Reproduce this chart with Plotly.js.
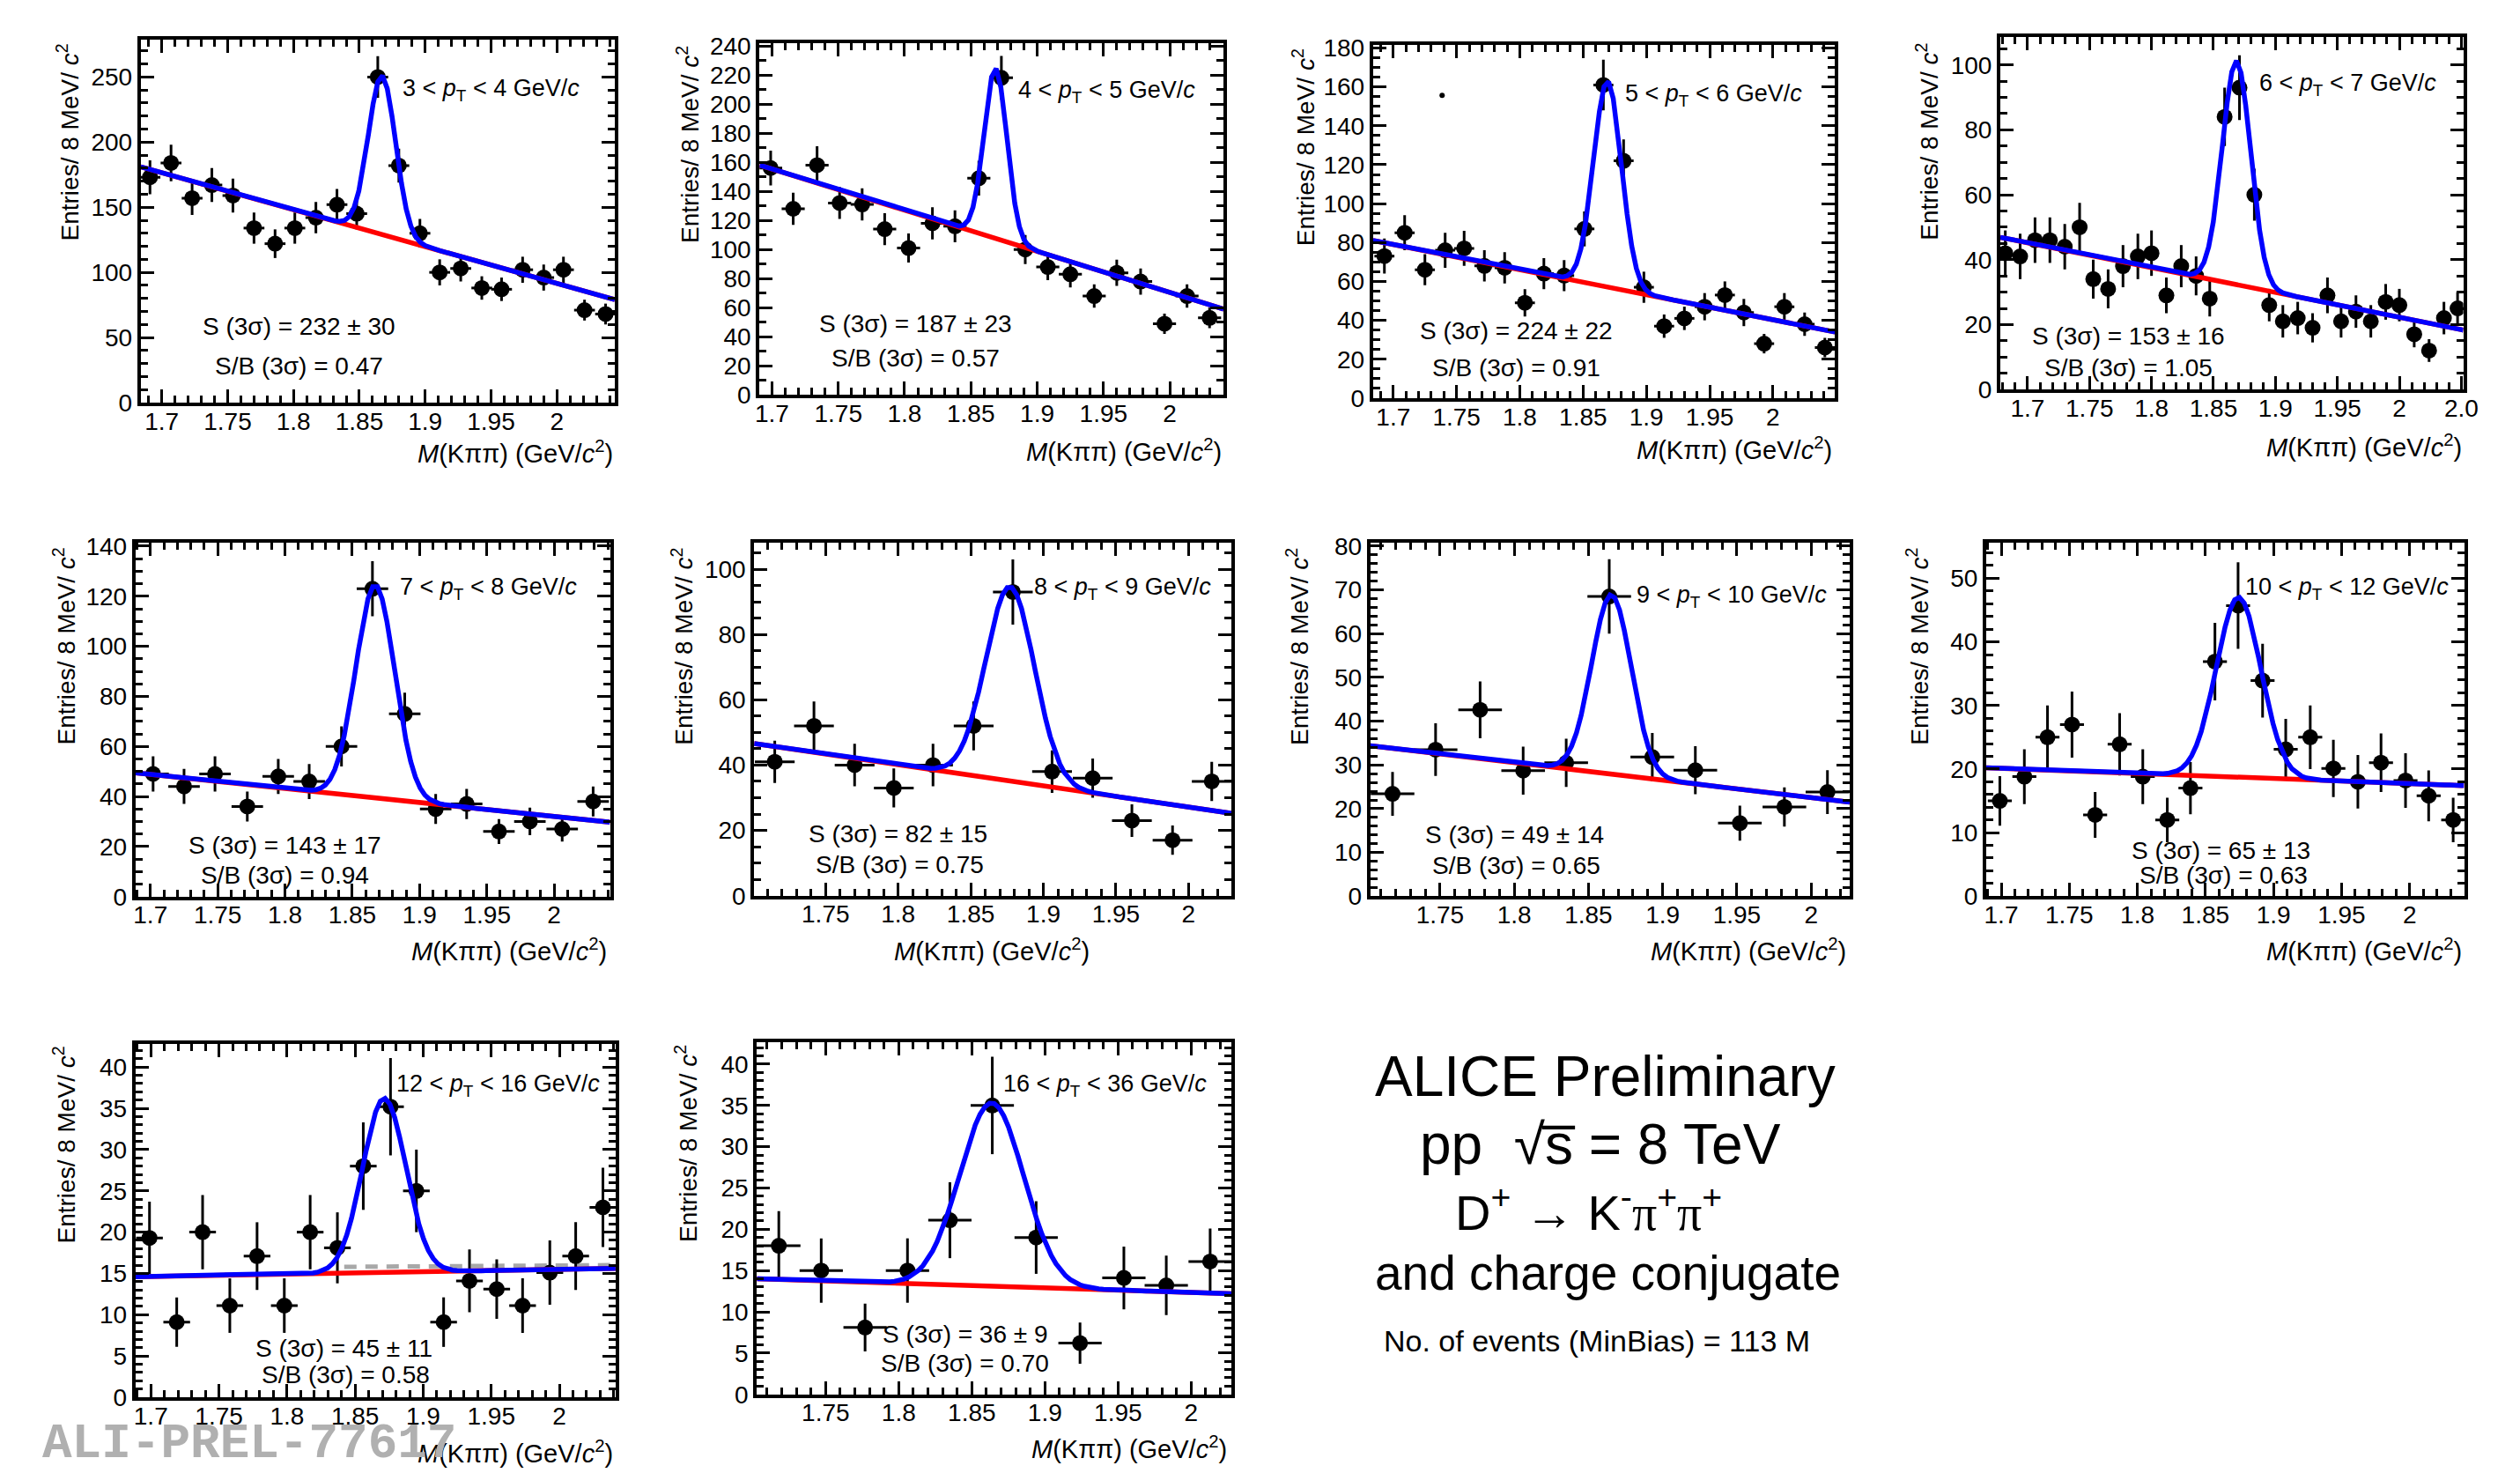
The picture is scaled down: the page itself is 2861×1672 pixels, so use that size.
<!DOCTYPE html>
<html>
<head>
<meta charset="utf-8">
<script src="https://cdn.plot.ly/plotly-3.0.1.min.js"></script>
<style>
  html, body { margin: 0; padding: 0; background: #ffffff; overflow: hidden; }
  #chart { width: 2861px; height: 1672px; }
</style>
</head>
<body>
<div id="chart"></div>
<script>
// ---------------------------------------------------------------
// D+ -> K- pi+ pi+ invariant-mass spectra in ten pT intervals
// ---------------------------------------------------------------

// pT interval edges (GeV/c)
const ptLo = [3, 4, 5, 6, 7, 8, 9, 10, 12, 16];
const ptHi = [4, 5, 6, 7, 8, 9, 10, 12, 16, 36];

// Raw signal yield, its uncertainty and S/B within 3 sigma
const signal    = [232, 187, 224, 153, 143, 82, 49, 65, 45, 36];
const signalErr = [30, 23, 22, 16, 17, 15, 14, 13, 11, 9];
const sOverB    = ['0.47', '0.57', '0.91', '1.05', '0.94', '0.75', '0.65', '0.63', '0.58', '0.70'];

// Bin centres (GeV/c^2), entries and statistical errors per pT interval
const mass1 = [1.691,1.707,1.723,1.738,1.754,1.770,1.786,1.801,1.817,1.833,1.848,1.864,1.880,1.896,1.911,1.927,1.943,1.958,1.974,1.990,2.005,2.021,2.037];
const cnt1  = [173,184,157,167,159,134,122,134,142,152,145,250,182,130,100,103,88,87,102,96,102,71,68];
const err1  = [13,14,13,13,13,12,11,12,12,12,12,16,13,11,10,10,9,9,10,10,10,8,8];

const mass2 = [1.699,1.716,1.734,1.751,1.768,1.785,1.803,1.821,1.838,1.856,1.873,1.891,1.908,1.925,1.943,1.960,1.978,1.996,2.013,2.030];
const cnt2  = [156,128,158,132,131,114,101,118,116,149,218,100,88,83,68,84,78,49,68,53];
const err2  = [12,11,13,11,11,11,10,11,11,12,15,10,9,9,8,9,9,7,8,7];

const mass3 = [1.693,1.709,1.725,1.741,1.756,1.772,1.788,1.804,1.819,1.835,1.851,1.866,1.882,1.898,1.914,1.930,1.946,1.962,1.977,1.993,2.009,2.025,2.041];
const cnt3  = [73,85,66,76,77,68,67,49,64,63,87,161,122,57,37,41,47,53,44,28,47,38,26];
const err3  = [9,9,8,9,9,8,8,7,8,8,9,13,11,8,6,6,7,7,7,5,7,6,5];

const mass4 = [1.682,1.694,1.706,1.718,1.730,1.742,1.753,1.765,1.777,1.789,1.800,1.812,1.824,1.836,1.847,1.859,1.871,1.883,1.895,1.906,1.918,1.930,1.942,1.953,1.965,1.977,1.989,2.000,2.012,2.024,2.036,2.047];
const cnt4  = [42,41,46,46,44,50,34,31,38,41,42,29,38,35,28,84,93,60,26,21,22,19,29,21,24,21,27,26,17,12,22,25];
const err4  = [7,7,7,7,7,7.5,6,6,6.5,7,7,5.5,6.5,6,5.5,9,10,8,5,5,5,4.5,5.5,5,5,5,5.5,5,4,3.5,5,5];

const mass5 = [1.702,1.725,1.748,1.772,1.795,1.818,1.842,1.865,1.889,1.912,1.935,1.959,1.982,2.006,2.029];
const cnt5  = [49,44,49,36,48,46,60,123,73,35,37,26,30,27,38];
const err5  = [7,7,7,6,7,7,8,11,8.5,6,6,5,5.5,5,6];

const mass6 = [1.715,1.742,1.770,1.797,1.824,1.852,1.879,1.906,1.934,1.961,1.989,2.016];
const cnt6  = [41,52,40,33,40,52,93,38,36,23,17,35];
const err6  = [6.5,7.5,6.5,6,6.5,7.5,10,6.5,6,5,4.5,6];

const mass7 = [1.718,1.747,1.777,1.806,1.835,1.864,1.893,1.922,1.952,1.982,2.011];
const cnt7  = [23.4,33.5,42.6,28.7,30.5,68.5,31.8,28.8,16.7,20.4,23.8];
const err7  = [5,6,6.5,5.5,5.5,8.5,5.5,5.5,4,4.5,5];

const mass8 = [1.699,1.717,1.734,1.752,1.769,1.787,1.804,1.822,1.839,1.857,1.874,1.892,1.909,1.927,1.944,1.962,1.979,1.997,2.014,2.032];
const cnt8  = [15,18.8,25,27,12.8,23.9,18.8,12,17,36.9,45.7,33.9,23.1,25,20.1,18,21,18.2,15.8,12];
const err8  = [3.9,4.3,5,5.2,3.6,4.9,4.3,3.5,4.1,6.1,6.8,5.8,4.8,5,4.5,4.2,4.6,4.3,4,3.5];

const mass9 = [1.699,1.719,1.738,1.758,1.778,1.798,1.817,1.837,1.856,1.876,1.895,1.915,1.934,1.954,1.973,1.993,2.012,2.032];
const cnt9  = [19.3,9.1,20,11.1,17.1,11.1,20,18.1,28,35.2,25,9.1,14.1,13.1,11.1,15.1,17.1,23];
const err9  = [4.4,3,4.5,3.3,4.1,3.3,4.5,4.3,5.3,5.9,5,3,3.8,3.6,3.3,3.9,4.1,4.8];

const mass10 = [1.718,1.747,1.777,1.806,1.835,1.864,1.894,1.924,1.954,1.983,2.013];
const cnt10  = [18,15,8.1,15,21.1,35,19,6.2,14.1,13.2,16.1];
const err10  = [4.2,3.9,2.9,3.9,4.6,5.9,4.4,2.5,3.8,3.6,4];

// Half bin width (GeV/c^2) per pT interval
const halfBin = [0.0079, 0.0087, 0.0079, 0.0059, 0.0117, 0.0137, 0.0147, 0.0088, 0.0098, 0.0148];

// Fit: Gaussian signal + linear background
const fitMean  = [1.8672, 1.8686, 1.8693, 1.8686, 1.8671, 1.8771, 1.8655, 1.8744, 1.8714, 1.8636];
const fitSigma = [0.0103, 0.0086, 0.0110, 0.0114, 0.0144, 0.0168, 0.0133, 0.0164, 0.0158, 0.0219];
const fitAmp   = [122, 117, 106, 69, 85, 59.5, 41, 28.3, 21.1, 22.2];
const fitLo    = [1.684, 1.6906, 1.684, 1.678, 1.6889, 1.7008, 1.703, 1.689, 1.6887, 1.703];
const fitHi    = [2.044, 2.0406, 2.049, 2.0516, 2.0415, 2.0297, 2.026, 2.040, 2.0413, 2.0277];
const bkgLo    = [181, 158, 81, 46.9, 49.4, 46.6, 34.4, 20.2, 14.6, 14.0];
const bkgHi    = [79, 59, 34, 18.3, 29.7, 25.2, 21.5, 17.4, 15.6, 12.2];

// Additional background template drawn in the 12-16 GeV/c interval
const templX = [1.842, 2.041];
const templY = [15.8, 16.0];

// Isolated marker in the 5-6 GeV/c interval
const strayX = [1.7386];
const strayY = [155.6];

const masses = [mass1, mass2, mass3, mass4, mass5, mass6, mass7, mass8, mass9, mass10];
const counts = [cnt1, cnt2, cnt3, cnt4, cnt5, cnt6, cnt7, cnt8, cnt9, cnt10];
const errors = [err1, err2, err3, err4, err5, err6, err7, err8, err9, err10];

// ---------------------------------------------------------------
// Page geometry (pixels) and styling
// ---------------------------------------------------------------
const W = 2861, H = 1672;
const FONT = 'Liberation Sans, Arial, Helvetica, sans-serif';
const NPX = 100;   // sampling points of the fit function

// frame [left, right, top, bottom] of each pad
const frames = [
  [159.8, 698.0, 44.5, 457.0],
  [862.3, 1389.2, 48.7, 448.4],
  [1558.8, 2083.3, 51.4, 451.9],
  [2271.0, 2796.6, 42.4, 442.1],
  [153.8, 692.5, 616.0, 1017.7],
  [856.2, 1398.3, 616.0, 1016.7],
  [1555.7, 2100.0, 616.0, 1017.3],
  [2255.0, 2797.5, 616.0, 1017.3],
  [153.8, 698.9, 1185.0, 1586.0],
  [859.3, 1398.3, 1182.7, 1582.7]
];
const yMax   = [279, 242, 181.4, 108.5, 141.4, 108.1, 80.8, 55.6, 42.8, 42.7];
const yDtick = [50, 20, 20, 20, 20, 20, 10, 10, 5, 5];
const yMinor = [10, 10, 5, 5, 5, 5, 2, 2, 1, 1];

// label anchors in pixels
const ptPos   = [[454.6,102.5],[1154,104.3],[1843,107.8],[2563,95.6],[452.3,668.3],[1171.5,668.3],[1855.8,677.3],[2547,668.3],[447.7,1231.7],[1136.8,1231.7]];
const sPos    = [[339.8,370.2],[1039,367.8],[1721.6,375.4],[2416,381.7],[323.7,959.3],[1019.7,946.7],[1719.4,947.3],[2521.6,965],[390.3,1530],[1095.6,1514]];
const sbPos   = [[339.8,415.4],[1039,406.7],[1721.6,417.1],[2416,417.1],[323.7,993.3],[1021.9,981.7],[1721.6,982.7],[2524,993.3],[392.6,1560],[1095.6,1547.3]];
const xtPos   = [[698,512.7],[1389,511],[2082,509],[2797,505.8],[691,1078.3],[1239,1078.3],[2097.8,1078.3],[2797,1078],[698,1648.3],[1395,1643.3]];
const ytPos   = [[78,161.5],[781,164],[1479.6,167.7],[2188,160.7],[73.5,734],[774.7,734],[1473,734],[2176.8,734],[73.5,1300],[779,1298]];

const px = x => x / W;
const py = y => 1 - y / H;

function ann(text, x, y, size, xanchor, extra) {
  return Object.assign({
    text: text, x: px(x), y: py(y), xref: 'paper', yref: 'paper',
    xanchor: xanchor, yanchor: 'middle', showarrow: false,
    font: { family: FONT, size: size, color: '#000000' }
  }, extra || {});
}

const traces = [];
const layout = {
  width: W, height: H,
  margin: { l: 0, r: 0, t: 0, b: 0 },
  paper_bgcolor: '#ffffff', plot_bgcolor: '#ffffff',
  showlegend: false,
  annotations: []
};

for (let i = 0; i < 10; i++) {
  const sfx = i === 0 ? '' : String(i + 1);
  const xa = 'x' + sfx, ya = 'y' + sfx;
  const [l, r, t, b] = frames[i];

  // data points
  traces.push({
    type: 'scatter', mode: 'markers', xaxis: xa, yaxis: ya,
    x: masses[i], y: counts[i],
    marker: { symbol: 'circle', size: 18, color: '#000000' },
    error_y: { type: 'data', array: errors[i], width: 0, thickness: 3, color: '#000000' },
    error_x: { type: 'constant', value: halfBin[i], width: 0, thickness: 3, color: '#000000' },
    hoverinfo: 'x+y'
  });

  // fit function sampled like a TF1
  const fx = [], fb = [], ft = [];
  for (let k = 0; k <= NPX; k++) {
    const x = fitLo[i] + (fitHi[i] - fitLo[i]) * k / NPX;
    const bg = bkgLo[i] + (bkgHi[i] - bkgLo[i]) * (x - fitLo[i]) / (fitHi[i] - fitLo[i]);
    const z = (x - fitMean[i]) / fitSigma[i];
    fx.push(x); fb.push(bg); ft.push(bg + fitAmp[i] * Math.exp(-0.5 * z * z));
  }
  traces.push({
    type: 'scatter', mode: 'lines', xaxis: xa, yaxis: ya,
    x: fx, y: fb, line: { color: '#ff0000', width: 5.5 }, hoverinfo: 'skip'
  });
  traces.push({
    type: 'scatter', mode: 'lines', xaxis: xa, yaxis: ya,
    x: fx, y: ft, line: { color: '#0000ff', width: 5.5 }, hoverinfo: 'skip'
  });

  const common = {
    showline: true, linecolor: '#000000', linewidth: 4, mirror: 'ticks',
    ticks: 'inside', ticklen: 15, tickwidth: 3, tickcolor: '#000000',
    showgrid: false, zeroline: false, fixedrange: true,
    tickfont: { family: FONT, size: 28, color: '#000000' }
  };
  const xaxis = Object.assign({}, common, {
    domain: [px(l), px(r)], anchor: ya,
    range: [fitLo[i], fitHi[i]], tick0: 1.7, dtick: 0.05,
    ticklabelstandoff: -7,
    minor: { ticks: 'inside', ticklen: 8, tickwidth: 3, tickcolor: '#000000', dtick: 0.01, tick0: 1.7, showgrid: false }
  });
  if (i === 3) {
    xaxis.tickmode = 'array';
    xaxis.tickvals = [1.7, 1.75, 1.8, 1.85, 1.9, 1.95, 2.0, 2.05];
    xaxis.ticktext = ['1.7', '1.75', '1.8', '1.85', '1.9', '1.95', '2', '2.0'];
  }
  const yaxis = Object.assign({}, common, {
    domain: [py(b), py(t)], anchor: xa,
    range: [0, yMax[i]], tick0: 0, dtick: yDtick[i],
    minor: { ticks: 'inside', ticklen: 8, tickwidth: 3, tickcolor: '#000000', dtick: yMinor[i], tick0: 0, showgrid: false }
  });
  layout['xaxis' + sfx] = xaxis;
  layout['yaxis' + sfx] = yaxis;

  // texts of the pad
  layout.annotations.push(ann(ptLo[i] + ' &lt; <i>p</i><sub>T</sub> &lt; ' + ptHi[i] + ' GeV/<i>c</i>',
                              ptPos[i][0], ptPos[i][1], 27, 'left'));
  layout.annotations.push(ann('S (3σ) = ' + signal[i] + ' ± ' + signalErr[i], sPos[i][0], sPos[i][1], 28, 'center'));
  layout.annotations.push(ann('S/B (3σ) = ' + sOverB[i], sbPos[i][0], sbPos[i][1], 28, 'center'));
  layout.annotations.push(ann('<i>M</i>(Kππ) (GeV/<i>c</i><sup>2</sup>)', xtPos[i][0], xtPos[i][1], 29, 'right'));
  layout.annotations.push(ann('Entries/ 8 MeV/ <i>c</i><sup>2</sup>', ytPos[i][0], ytPos[i][1], 28, 'center', { textangle: -90 }));
}

// extra template line (12-16 GeV/c) and isolated marker (5-6 GeV/c)
traces.splice(24, 0, {
  type: 'scatter', mode: 'lines', xaxis: 'x9', yaxis: 'y9',
  x: templX, y: templY, line: { color: '#a8a8a8', width: 5, dash: '14px,10px' }, hoverinfo: 'skip'
});
traces.push({
  type: 'scatter', mode: 'markers', xaxis: 'x3', yaxis: 'y3',
  x: strayX, y: strayY, marker: { symbol: 'circle', size: 6, color: '#000000' }, hoverinfo: 'skip'
});

// preliminary tag
layout.annotations.push(ann('<b>ALI-PREL-77617</b>', 46, 1639, 56, 'left',
  { font: { family: 'Liberation Mono, Courier New, monospace', size: 56, color: '#b0b0b0' } }));

// summary text block
layout.annotations.push(ann('ALICE Preliminary', 1822, 1222, 64, 'center'));
layout.annotations.push(ann('pp  √s\u0305 = 8 TeV', 1817, 1299, 64, 'center'));
layout.annotations.push(ann('D<sup>+</sup> → K<sup>-</sup><span style="font-family:Liberation Serif">π</span><sup>+</sup><span style="font-family:Liberation Serif">π</span><sup>+</sup>', 1804, 1372, 56, 'center'));
layout.annotations.push(ann('and charge conjugate', 1825, 1445, 55, 'center'));
layout.annotations.push(ann('No. of events (MinBias) = 113 M', 1813, 1522, 34, 'center'));

Plotly.newPlot('chart', traces, layout, { staticPlot: true, displayModeBar: false });
</script>
</body>
</html>
